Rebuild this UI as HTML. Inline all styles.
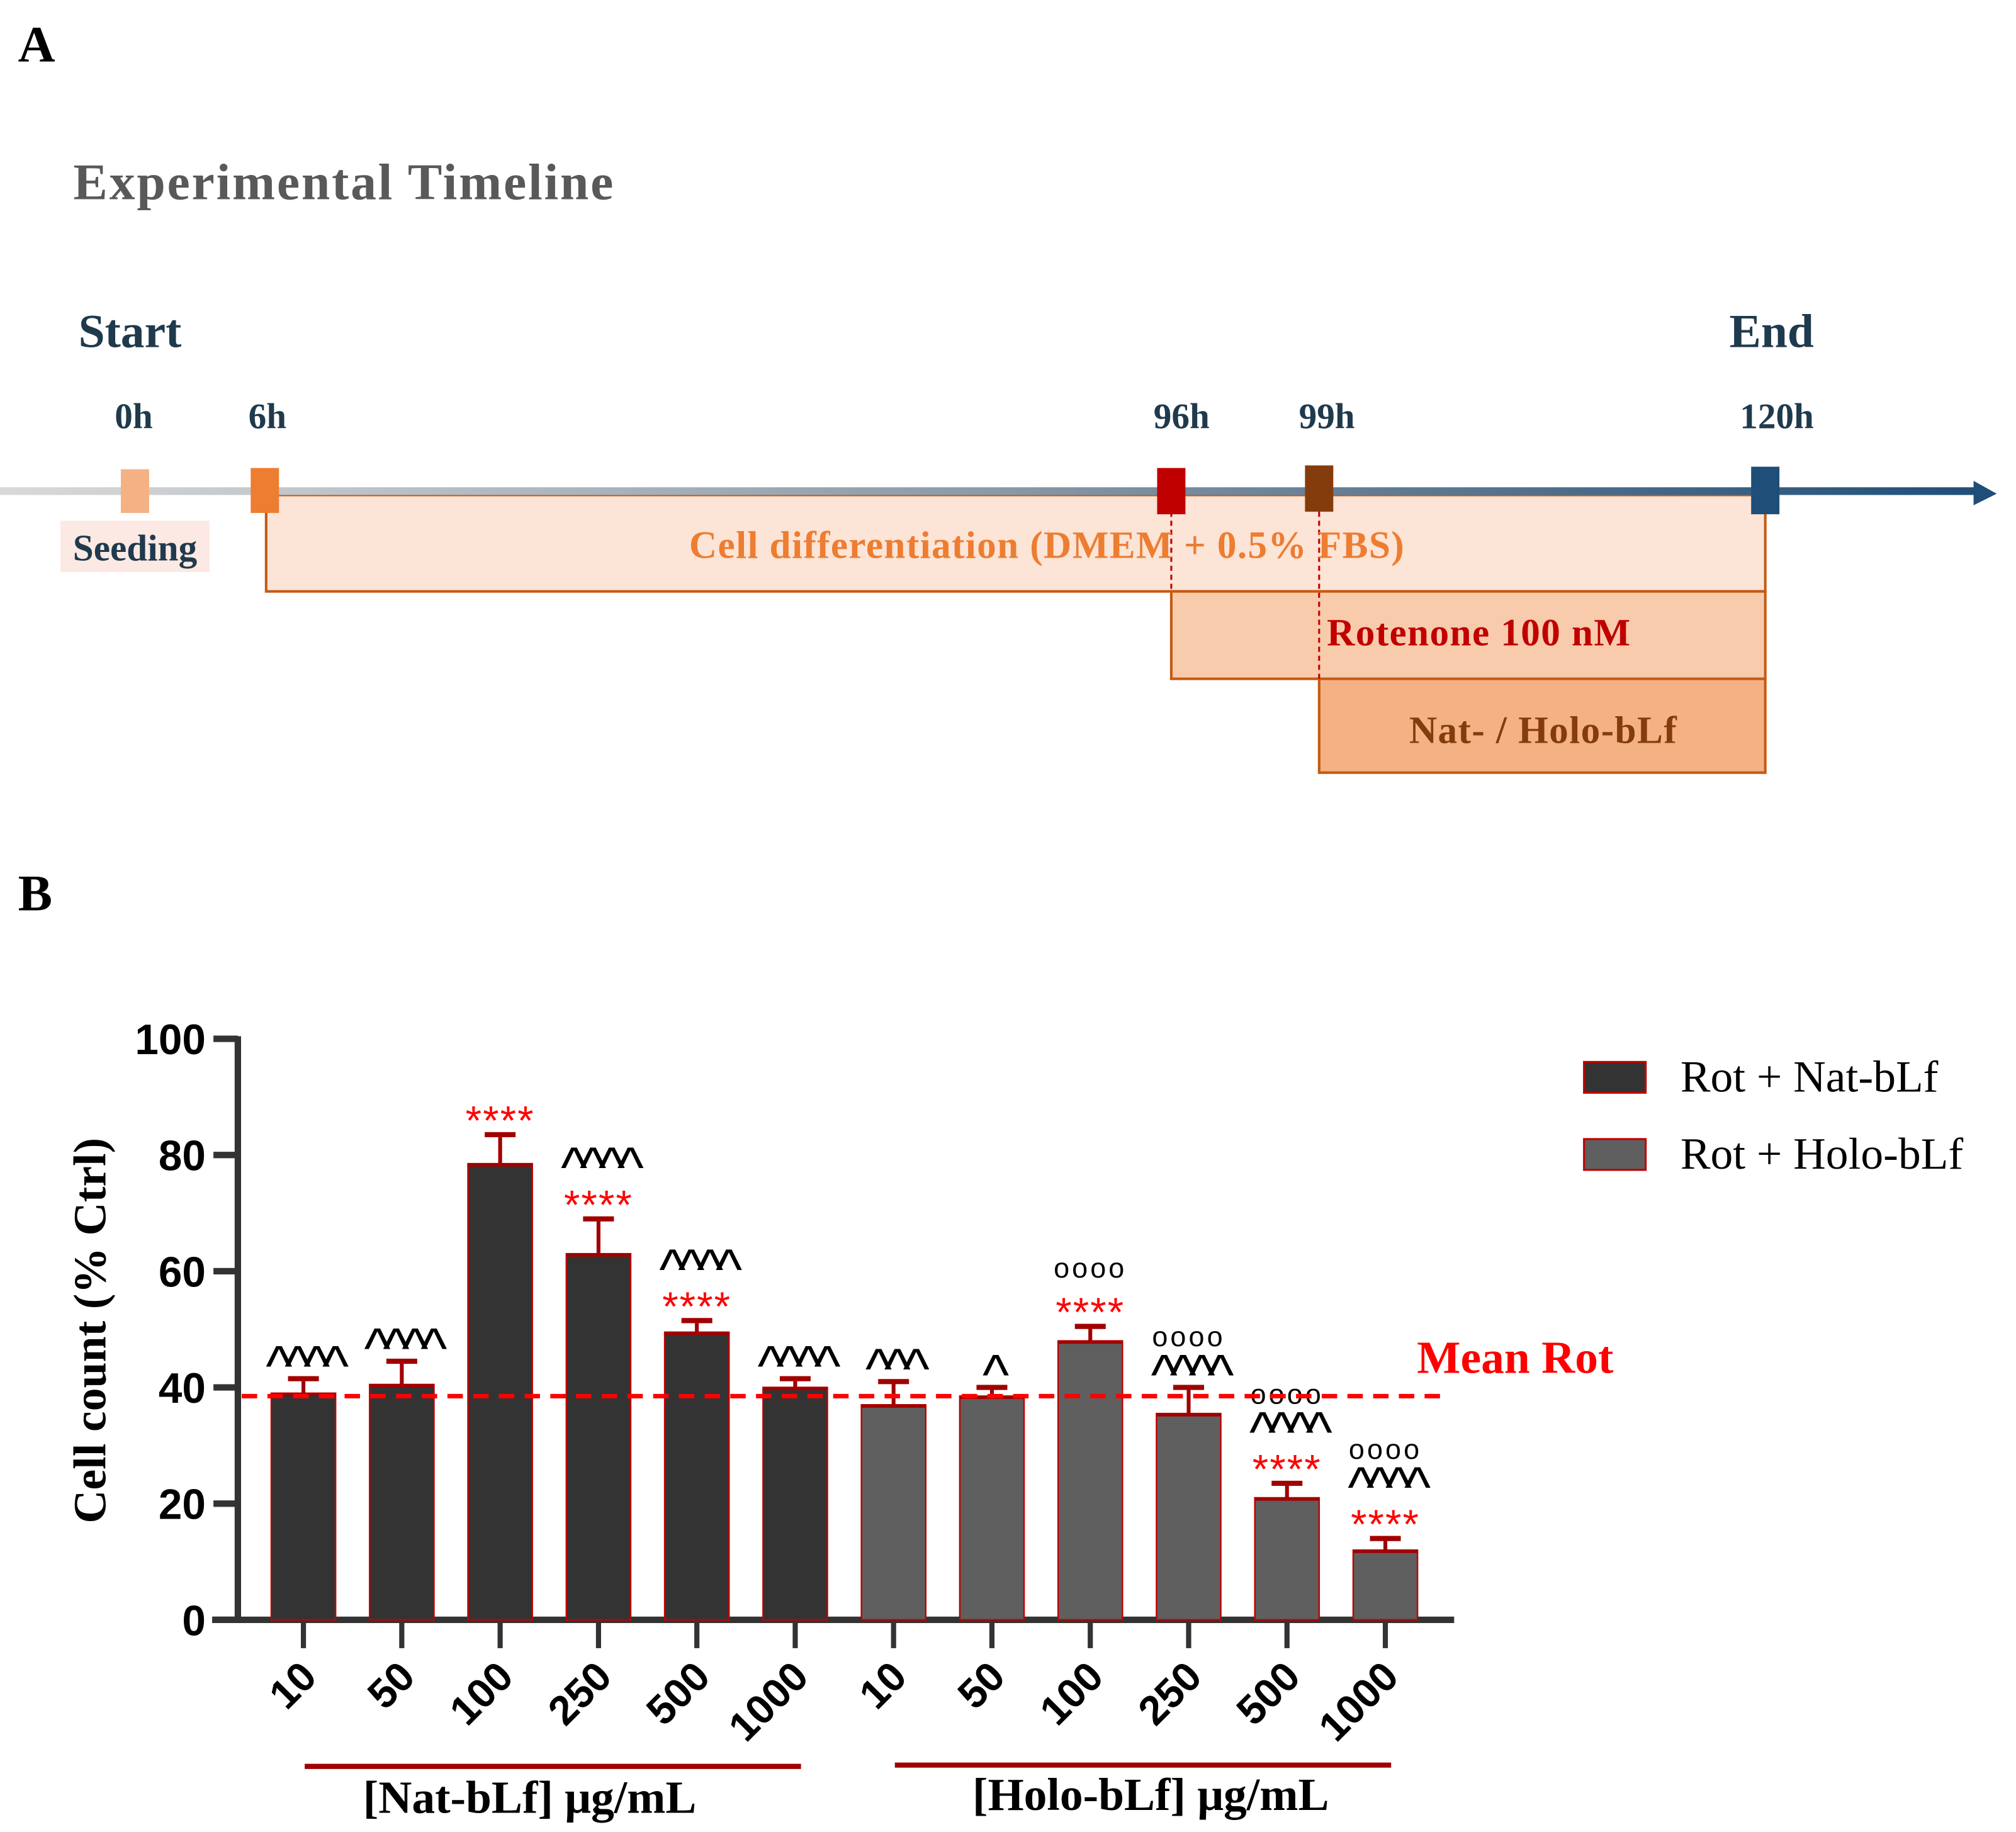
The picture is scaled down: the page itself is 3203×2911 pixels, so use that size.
<!DOCTYPE html>
<html><head><meta charset="utf-8"><style>
html,body{margin:0;padding:0;background:#fff}
svg{display:block}
.serif{font-family:"Liberation Serif",serif;font-weight:bold}
.sans{font-family:"Liberation Sans",sans-serif;font-weight:bold}
</style></head><body>
<svg id="fig" width="3203" height="2911" viewBox="0 0 1568 1425" xmlns="http://www.w3.org/2000/svg">
<defs>
<linearGradient id="axg" gradientUnits="userSpaceOnUse" x1="0" y1="382" x2="1540" y2="382">
<stop offset="0" stop-color="#d9d9d9"/><stop offset="0.5" stop-color="#8a9aa8"/><stop offset="1" stop-color="#1f4e79"/>
</linearGradient>
</defs>
<text x="14" y="48" class="serif" font-size="40" fill="#000">A</text>
<text x="57" y="155" class="serif" font-size="40" fill="#595959" textLength="420">Experimental  Timeline</text>
<text x="61" y="270" class="serif" font-size="37" fill="#1f3a4d">Start</text>
<text x="1345" y="270" class="serif" font-size="37" fill="#1f3a4d">End</text>
<g class="serif" font-size="28" fill="#1f3a4d" text-anchor="middle">
<text x="104" y="333">0h</text><text x="208" y="333">6h</text><text x="919" y="333">96h</text><text x="1032" y="333">99h</text><text x="1382" y="333">120h</text>
</g>
<rect x="207" y="385" width="1166" height="75" fill="#fce4d6" stroke="#c55a11" stroke-width="2"/>
<rect x="911" y="460" width="462" height="68" fill="#f8cbad" stroke="#c55a11" stroke-width="2"/>
<rect x="1026" y="528" width="347" height="73" fill="#f4b183" stroke="#c55a11" stroke-width="2"/>
<line x1="911" y1="398" x2="911" y2="460" stroke="#c00000" stroke-width="1.5" stroke-dasharray="4,3"/>
<line x1="1026" y1="398" x2="1026" y2="528" stroke="#c00000" stroke-width="1.5" stroke-dasharray="4,3"/>
<line x1="0" y1="382" x2="1540" y2="382" stroke="url(#axg)" stroke-width="6"/>
<polygon points="1535,374 1553,384 1535,393" fill="#1f4e79"/>
<rect x="94" y="365" width="22" height="34" fill="#f4b183"/>
<rect x="195" y="364" width="22" height="35" fill="#ed7d31"/>
<rect x="900" y="364" width="22" height="36" fill="#c00000"/>
<rect x="1015" y="362" width="22" height="36" fill="#843c0c"/>
<rect x="1362" y="363" width="22" height="37" fill="#1f4e79"/>
<rect x="47" y="405" width="116" height="40" fill="#fde9e4"/>
<text x="105" y="436" class="serif" font-size="29" fill="#1f3a4d" text-anchor="middle">Seeding</text>
<text x="814" y="434" class="serif" font-size="30" fill="#ed7d31" text-anchor="middle" textLength="556">Cell differentiation  (DMEM + 0.5% FBS)</text>
<text x="1150" y="502" class="serif" font-size="30" fill="#c00000" text-anchor="middle" textLength="236">Rotenone 100 nM</text>
<text x="1200" y="578" class="serif" font-size="30" fill="#843c0c" text-anchor="middle" textLength="208">Nat- / Holo-bLf</text>
<text x="14" y="708" class="serif" font-size="40" fill="#000">B</text>
<text transform="translate(82,1035) rotate(-90)" class="serif" font-size="36" text-anchor="middle" textLength="300">Cell count (% Ctrl)</text>
<g id="plot"></g>
<rect x="1232" y="826" width="48" height="24" fill="#333" stroke="#c00000" stroke-width="1.5"/>
<text x="1307" y="849" font-family="Liberation Serif,serif" font-size="35">Rot + Nat-bLf</text>
<rect x="1232" y="886" width="48" height="24" fill="#5f5f5f" stroke="#c00000" stroke-width="1.5"/>
<text x="1307" y="909" font-family="Liberation Serif,serif" font-size="35">Rot + Holo-bLf</text>
<text x="1102" y="1068" class="serif" font-size="36" fill="#ff0000">Mean Rot</text>
<line x1="237" y1="1374" x2="623" y2="1374" stroke="#a00000" stroke-width="4"/>
<line x1="696" y1="1373" x2="1082" y2="1373" stroke="#a00000" stroke-width="4"/>
<text x="412" y="1410" class="serif" font-size="36" text-anchor="middle">[Nat-bLf] μg/mL</text>
<text x="895" y="1408" class="serif" font-size="36" text-anchor="middle">[Holo-bLf] μg/mL</text>
</svg>
<script>
const categories=["10","50","100","250","500","1000","10","50","100","250","500","1000"];
const groups=["nat","nat","nat","nat","nat","nat","holo","holo","holo","holo","holo","holo"];
const means=[39,40.5,78.5,63,49.5,40,37,38.5,48,35.5,21,12];
const errTops=[41.5,44.5,83.5,69,51.5,41.5,41,40,50.5,40,23.5,14];
const starLabels=["","","****","****","****","","","","****","","****","****"];
const caretLabels=["^^^^","^^^^","","^^^^","^^^^","^^^^","^^^","^","","^^^^","^^^^","^^^^"];
const circleLabels=["","","","","","","","","°°°°","°°°°","°°°°","°°°°"];
const yTicks=[0,20,40,60,80,100];
const meanRot=38.5;
const NS="http://www.w3.org/2000/svg";
const g=document.getElementById('plot');
const y=v=>1260-v*4.52;
const x=i=>236+i*76.5;
function mk(t,a){const e=document.createElementNS(NS,t);for(const k in a)e.setAttribute(k,a[k]);g.appendChild(e);return e;}
const ya=mk('line',{x1:185,y1:y(100)-2,x2:185,y2:1262,stroke:'#333','stroke-width':5});


const xa=mk('line',{x1:165,y1:1260,x2:1131,y2:1260,stroke:'#333','stroke-width':5});


yTicks.forEach(v=>{
 mk('line',{x1:166,y1:y(v),x2:185,y2:y(v),stroke:'#333','stroke-width':5});
 const t=mk('text',{x:160,y:y(v)+12,'text-anchor':'end','font-family':'Liberation Sans,sans-serif','font-weight':'bold','font-size':33});
 t.textContent=v;
 
 
});
means.forEach((m,i)=>{
 const cx=x(i);
 const b=mk('rect',{x:cx-25,y:y(m),width:50,height:1260-y(m),fill:groups[i]==='nat'?'#333333':'#5f5f5f',stroke:'#c00000','stroke-width':1.2});
 
 
 mk('line',{x1:cx,y1:y(m),x2:cx,y2:y(errTops[i]),stroke:'#a00000','stroke-width':3});
 mk('line',{x1:cx-12,y1:y(errTops[i]),x2:cx+12,y2:y(errTops[i]),stroke:'#a00000','stroke-width':4});
 mk('line',{x1:cx-25,y1:y(m)+1,x2:cx+25,y2:y(m)+1,stroke:'#a00000','stroke-width':2.5});
 mk('line',{x1:cx,y1:1262,x2:cx,y2:1282,stroke:'#333','stroke-width':4});
 let ly=y(errTops[i])-8;
 if(starLabels[i]){const t=mk('text',{x:cx,y:ly+8,'text-anchor':'middle','font-family':'Liberation Sans,sans-serif','font-size':32,fill:'#ff0000','letter-spacing':'1'});t.textContent=starLabels[i];ly-=30;}
 if(caretLabels[i]){const t=mk('text',{x:cx,y:ly+13,'text-anchor':'middle','font-family':'Liberation Sans,sans-serif','font-size':44,fill:'#000','letter-spacing':'-6'});t.textContent=caretLabels[i];ly-=24;}
 if(circleLabels[i]){const t=mk('text',{x:cx,y:ly,'text-anchor':'middle','font-family':'Liberation Sans,sans-serif','font-size':22,fill:'#000','letter-spacing':'2'});t.textContent='oooo';}
 const xl=mk('text',{transform:`translate(${cx+12},${1306}) rotate(-45)`,'text-anchor':'end','font-family':'Liberation Sans,sans-serif','font-weight':'bold','font-size':32});
 xl.textContent=categories[i];
 
 
});
const ml=mk('line',{x1:188,y1:y(meanRot),x2:1122,y2:y(meanRot),stroke:'#ff0000','stroke-width':3.5,'stroke-dasharray':'12,8'});


</script>
</body></html>
